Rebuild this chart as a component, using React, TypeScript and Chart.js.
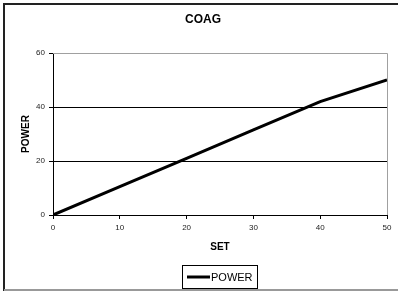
import React, { useEffect, useRef } from "react";
import { Chart, registerables } from "chart.js";

Chart.register(...registerables);

const chartTitle = "COAG";
const xTitle = "SET";
const yTitle = "POWER";
const seriesName = "POWER";
const setValues = [0, 10, 20, 30, 40, 50];
const powerValues = [0, 10.5, 21, 31.5, 42, 50];

const FONT = "'Liberation Sans', Arial, sans-serif";

const decorPlugin = {
  id: "decor",
  beforeDraw(chart: any) {
    const ctx = chart.ctx;
    ctx.save();
    ctx.fillStyle = "#ffffff";
    ctx.fillRect(0, 0, chart.width, chart.height);
    ctx.restore();
  },
  afterDraw(chart: any) {
    const ctx = chart.ctx;
    const a = chart.chartArea;
    ctx.save();
    // plot area top/right border (gray)
    ctx.strokeStyle = "#a0a0a0";
    ctx.lineWidth = 1;
    ctx.beginPath();
    ctx.moveTo(a.left, a.top + 0.5);
    ctx.lineTo(a.right + 0.5, a.top + 0.5);
    ctx.lineTo(a.right + 0.5, a.bottom);
    ctx.stroke();
    // outer frame
    ctx.strokeStyle = "#222";
    ctx.lineWidth = 2;
    ctx.beginPath();
    ctx.moveTo(4, chart.height);
    ctx.lineTo(4, 4);
    ctx.lineTo(chart.width, 4);
    ctx.stroke();
    ctx.strokeStyle = "#999";
    ctx.lineWidth = 2;
    ctx.beginPath();
    ctx.moveTo(4, chart.height - 1);
    ctx.lineTo(chart.width, chart.height - 1);
    ctx.stroke();
    // title
    ctx.fillStyle = "#000";
    ctx.textAlign = "center";
    ctx.textBaseline = "middle";
    ctx.font = `bold 12px ${FONT}`;
    ctx.fillText(chartTitle, 203, 20);
    // x title
    ctx.font = `bold 10px ${FONT}`;
    ctx.fillText(xTitle, (a.left + a.right) / 2, 247);
    // y title
    ctx.save();
    ctx.translate(26, (a.top + a.bottom) / 2);
    ctx.rotate(-Math.PI / 2);
    ctx.fillText(yTitle, 0, 0);
    ctx.restore();
    // legend
    ctx.strokeStyle = "#000";
    ctx.lineWidth = 1;
    ctx.strokeRect(182.5, 265.5, 75, 23);
    ctx.lineWidth = 3;
    ctx.beginPath();
    ctx.moveTo(187, 277);
    ctx.lineTo(210, 277);
    ctx.stroke();
    ctx.font = `11px ${FONT}`;
    ctx.textAlign = "left";
    ctx.fillText(seriesName, 211, 277.5);
    ctx.restore();
  },
};

export default function App() {
  const ref = useRef<HTMLCanvasElement | null>(null);
  useEffect(() => {
    if (!ref.current) return;
    const chart = new Chart(ref.current, {
      type: "line",
      data: {
        datasets: [
          {
            label: seriesName,
            data: setValues.map((x, i) => ({ x, y: powerValues[i] })),
            borderColor: "#000",
            borderWidth: 3,
            pointRadius: 0,
            tension: 0,
            fill: false,
          },
        ],
      },
      options: {
        animation: false,
        responsive: false,
        devicePixelRatio: 1,
        layout: { padding: { top: 53, left: 0, right: 11, bottom: 0 } },
        plugins: {
          legend: { display: false },
          title: { display: false },
          tooltip: { enabled: false },
        },
        scales: {
          x: {
            type: "linear",
            min: 0,
            max: 50,
            afterFit: (s: any) => {
              s.height = 76;
            },
            ticks: {
              stepSize: 10,
              color: "#222",
              font: { family: FONT, size: 8 },
              padding: 4,
              maxRotation: 0,
            },
            grid: {
              drawOnChartArea: false,
              color: "#000",
              tickLength: 4,
            },
            border: { color: "#000", width: 1 },
          },
          y: {
            type: "linear",
            min: 0,
            max: 60,
            afterFit: (s: any) => {
              s.width = 53;
            },
            ticks: {
              stepSize: 20,
              color: "#222",
              font: { family: FONT, size: 8 },
              padding: 4,
            },
            grid: {
              color: (c: any) => (c.tick && c.tick.value === 60 ? "#a0a0a0" : "#000"),
              tickColor: "#000",
              tickLength: 4,
            },
            border: { color: "#000", width: 1 },
          },
        },
      },
      plugins: [decorPlugin],
    });
    return () => chart.destroy();
  }, []);
  return (
    <div style={{ position: "fixed", left: 0, top: 0, width: 398, height: 291 }}>
      <canvas ref={ref} width={398} height={291} style={{ width: 398, height: 291, display: "block" }} />
    </div>
  );
}
